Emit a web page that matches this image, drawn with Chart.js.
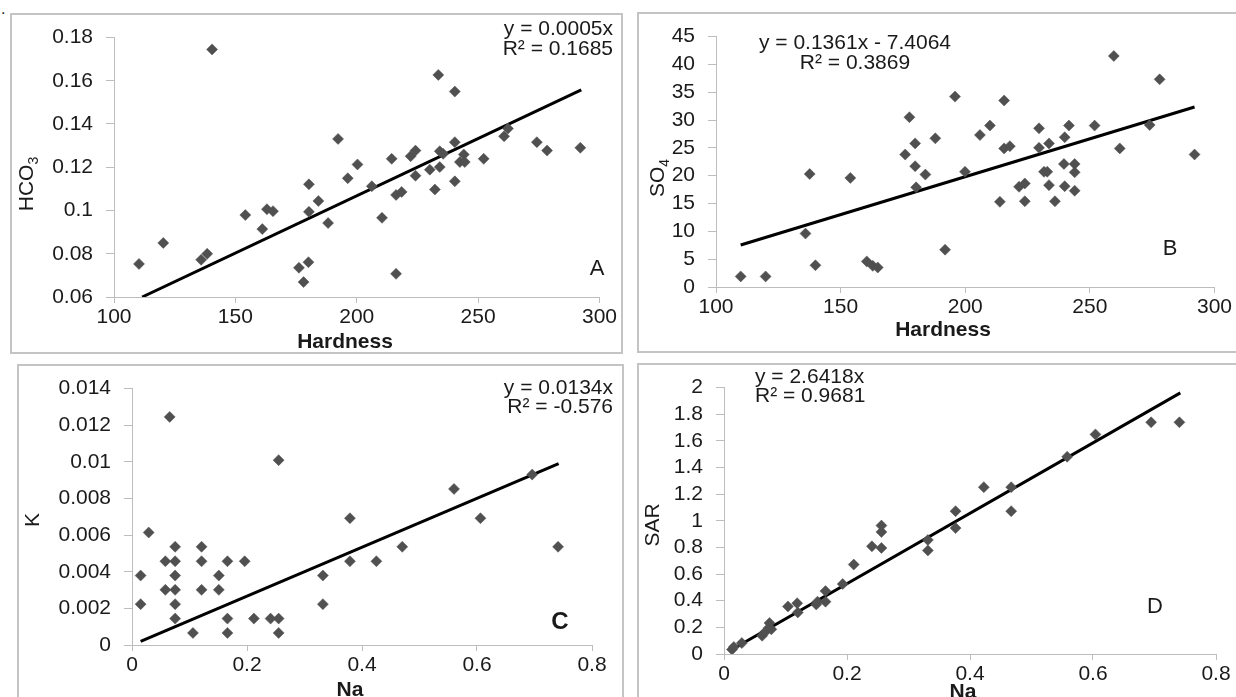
<!DOCTYPE html>
<html>
<head>
<meta charset="utf-8">
<script src="https://cdn.jsdelivr.net/npm/chart.js@4/dist/chart.umd.min.js"></script>
<style>
  html, body { margin: 0; padding: 0; background: #fff; }
  body { width: 1236px; height: 697px; position: relative; overflow: hidden; font-family: "Liberation Sans", Arial, sans-serif; }
  .box { position: absolute; border: 2px solid #c4c4c4; box-sizing: border-box; }
  canvas { position: absolute; }
  #dot { position: absolute; left: 1px; top: 0px; font-size: 16px; color: #222; }
</style>
</head>
<body>
<div id="dot">.</div>
<div class="box" style="left:10px;top:13px;width:613px;height:341px"></div>
<div class="box" style="left:637px;top:12px;width:620px;height:341px"></div>
<div class="box" style="left:17px;top:364px;width:607px;height:360px"></div>
<div class="box" style="left:637px;top:363px;width:620px;height:360px"></div>

<canvas id="chartA" width="610" height="339" style="left:11px;top:14px;width:610px;height:339px"></canvas>
<canvas id="chartB" width="598" height="339" style="left:638px;top:13px;width:598px;height:339px"></canvas>
<canvas id="chartC" width="604" height="332" style="left:18px;top:365px;width:604px;height:332px"></canvas>
<canvas id="chartD" width="598" height="333" style="left:638px;top:364px;width:598px;height:333px"></canvas>

<script>
const FONT = '"Liberation Sans", Arial, sans-serif';
const INK = '#1a1a1a';
const AXIS = '#bdbdbd';
const MARK = '#505050';

// A: HCO3 vs Hardness
const aHardness = [110.3, 120.3, 135.9, 138.4, 140.4, 154.1, 161.1, 163.0, 165.5, 176.2, 178.1, 180.1, 180.3, 180.3, 184.2, 188.2, 192.3, 196.3, 200.3, 206.2, 210.4, 214.4, 216.2, 216.2, 218.5, 222.2, 224.2, 224.2, 230.1, 232.2, 233.6, 234.2, 234.2, 235.6, 240.4, 240.4, 240.4, 242.5, 244.1, 244.5, 252.3, 260.7, 262.3, 274.2, 278.4, 292.1];
const aHCO3 = [0.0753, 0.0850, 0.0772, 0.0800, 0.1745, 0.0979, 0.0914, 0.1006, 0.0997, 0.0735, 0.0669, 0.0761, 0.1121, 0.0994, 0.1044, 0.0942, 0.1331, 0.1149, 0.1213, 0.1112, 0.0966, 0.1239, 0.0707, 0.1072, 0.1086, 0.1251, 0.1277, 0.1161, 0.1189, 0.1097, 0.1627, 0.1274, 0.1201, 0.1262, 0.1316, 0.1550, 0.1135, 0.1224, 0.1259, 0.1224, 0.1239, 0.1343, 0.1379, 0.1316, 0.1277, 0.1290];
const aTrendX = [111.6, 292.5];
const aTrendY = [0.0600, 0.1558];
const aXTicks = [100, 150, 200, 250, 300];
const aYTicks = [0.06, 0.08, 0.1, 0.12, 0.14, 0.16, 0.18];

// B: SO4 vs Hardness
const bHardness = [109.9, 119.9, 135.9, 137.6, 139.9, 153.9, 160.5, 162.9, 164.9, 175.9, 177.6, 179.9, 179.9, 180.3, 184.0, 188.0, 191.9, 195.9, 199.9, 205.9, 209.9, 213.9, 215.6, 215.6, 217.9, 221.6, 223.9, 223.9, 229.6, 229.6, 231.6, 232.9, 233.6, 233.6, 236.0, 239.6, 239.9, 239.9, 241.6, 243.9, 243.9, 243.9, 251.9, 259.6, 262.0, 274.0, 278.0, 292.0];
const bSO4 = [1.9, 1.9, 9.6, 20.3, 3.9, 19.6, 4.6, 3.8, 3.5, 23.8, 30.5, 25.8, 21.7, 17.9, 20.2, 26.7, 6.7, 34.2, 20.7, 27.3, 29.0, 15.3, 33.5, 24.9, 25.3, 18.0, 18.6, 15.4, 28.5, 25.0, 20.7, 20.7, 25.8, 18.3, 15.4, 22.1, 26.9, 18.1, 29.0, 22.1, 20.6, 17.3, 29.0, 41.5, 24.9, 29.1, 37.3, 23.8];
const bTrendX = [109.9, 292.0];
const bTrendY = [7.55, 32.33];
const bXTicks = [100, 150, 200, 250, 300];
const bYTicks = [0, 5, 10, 15, 20, 25, 30, 35, 40, 45];

// C: K vs Na
const cNa = [0.015, 0.015, 0.029, 0.058, 0.058, 0.0655, 0.075, 0.075, 0.075, 0.075, 0.075, 0.075, 0.106, 0.121, 0.121, 0.121, 0.151, 0.151, 0.166, 0.166, 0.166, 0.196, 0.212, 0.241, 0.255, 0.255, 0.255, 0.332, 0.332, 0.379, 0.379, 0.425, 0.470, 0.560, 0.606, 0.696, 0.741];
const cK = [0.00379, 0.00223, 0.00614, 0.00457, 0.00301, 0.01245, 0.00536, 0.00457, 0.00379, 0.00301, 0.00223, 0.00144, 0.00066, 0.00536, 0.00457, 0.00301, 0.00379, 0.00301, 0.00457, 0.00144, 0.00066, 0.00457, 0.00144, 0.00144, 0.00144, 0.00066, 0.01009, 0.00379, 0.00223, 0.00692, 0.00457, 0.00457, 0.00536, 0.00852, 0.00692, 0.0093, 0.00536];
const cTrendX = [0.015, 0.742];
const cTrendY = [0.0002, 0.0099];
const cXTicks = [0, 0.2, 0.4, 0.6, 0.8];
const cYTicks = [0, 0.002, 0.004, 0.006, 0.008, 0.01, 0.012, 0.014];

// D: SAR vs Na
const dNa = [0.013, 0.016, 0.029, 0.062, 0.066, 0.073, 0.074, 0.077, 0.104, 0.119, 0.120, 0.150, 0.152, 0.165, 0.165, 0.193, 0.211, 0.2405, 0.256, 0.256, 0.256, 0.3315, 0.3315, 0.3765, 0.3765, 0.4225, 0.467, 0.467, 0.558, 0.604, 0.6945, 0.7405];
const dSAR = [0.034, 0.053, 0.082, 0.137, 0.161, 0.197, 0.233, 0.185, 0.357, 0.381, 0.312, 0.372, 0.393, 0.472, 0.393, 0.525, 0.671, 0.808, 0.964, 0.916, 0.796, 0.856, 0.777, 1.072, 0.945, 1.252, 1.252, 1.072, 1.48, 1.648, 1.739, 1.739];
const dTrendX = [0.013, 0.742];
const dTrendY = [0.034, 1.96];
const dXTicks = [0, 0.2, 0.4, 0.6, 0.8];
const dYTicks = [0, 0.2, 0.4, 0.6, 0.8, 1, 1.2, 1.4, 1.6, 1.8, 2];

function pts(xs, ys) {
  return xs.map((x, i) => ({ x, y: ys[i] }));
}

// text drawn straight on the canvas (equations, panel letters, axis titles)
const notesPlugin = {
  id: 'notes',
  afterDraw(chart, args, opts) {
    const ctx = chart.ctx;
    (opts.items || []).forEach(n => {
      const size = n.size || 21;
      const mainFont = (n.bold ? 'bold ' : '') + size + 'px ' + FONT;
      const subFont = (n.bold ? 'bold ' : '') + Math.round(size * 0.65) + 'px ' + FONT;
      ctx.save();
      ctx.fillStyle = INK;
      ctx.textBaseline = 'middle';
      ctx.textAlign = 'left';
      ctx.translate(n.x, n.y);
      if (n.rotate) ctx.rotate(-Math.PI / 2);
      ctx.font = mainFont;
      const w = ctx.measureText(n.text).width;
      let sw = 0;
      if (n.sub) {
        ctx.font = subFont;
        sw = ctx.measureText(n.sub).width;
        ctx.font = mainFont;
      }
      const x0 = n.align === 'right' ? -(w + sw) : n.align === 'left' ? 0 : -(w + sw) / 2;
      ctx.fillText(n.text, x0, 0);
      if (n.sub) {
        ctx.font = subFont;
        ctx.fillText(n.sub, x0 + w, size * 0.32);
      }
      ctx.restore();
    });
  }
};

function axis(ticks, tickLen, pad, fit) {
  return {
    type: 'linear',
    min: ticks[0],
    max: ticks[ticks.length - 1],
    afterBuildTicks: s => { s.ticks = ticks.map(v => ({ value: v })); },
    afterFit: fit,
    grid: { drawOnChartArea: false, drawTicks: true, tickLength: tickLen, color: AXIS },
    border: { color: AXIS, width: 1 },
    ticks: {
      color: INK, padding: pad, maxRotation: 0, autoSkip: false,
      font: { family: FONT, size: 21, lineHeight: 1 },
      callback: v => String(v)
    }
  };
}

function panel(id, xs, ys, tx, ty, xTicks, yTicks, area, notes) {
  const cv = document.getElementById(id);
  new Chart(cv, {
    type: 'scatter',
    data: {
      datasets: [
        {
          data: pts(xs, ys),
          pointStyle: 'rectRot',
          pointRadius: 5.5,
          backgroundColor: MARK,
          borderColor: MARK,
          borderWidth: 0.5
        },
        {
          type: 'line',
          data: pts(tx, ty),
          showLine: true,
          pointRadius: 0,
          borderColor: '#000',
          borderWidth: 3
        }
      ]
    },
    plugins: [notesPlugin],
    options: {
      responsive: false,
      animation: false,
      layout: { padding: { left: 0, right: cv.width - area.right, top: area.top, bottom: 0 } },
      scales: {
        x: axis(xTicks, 6, 4, s => { s.height = cv.height - area.bottom; }),
        y: axis(yTicks, 8, 13, s => { s.width = area.left; })
      },
      plugins: {
        legend: { display: false },
        tooltip: { enabled: false },
        notes: { items: notes }
      }
    }
  });
}

panel('chartA', aHardness, aHCO3, aTrendX, aTrendY, aXTicks, aYTicks,
  { left: 103, right: 590, top: 21, bottom: 283 },
  [
    { text: 'y = 0.0005x', x: 602, y: 15, align: 'right' },
    { text: 'R² = 0.1685', x: 602, y: 35, align: 'right' },
    { text: 'A', x: 586, y: 255, size: 22 },
    { text: 'Hardness', x: 334, y: 328, bold: true },
    { text: 'HCO', sub: '3', x: 16, y: 170, rotate: true }
  ]);

panel('chartB', bHardness, bSO4, bTrendX, bTrendY, bXTicks, bYTicks,
  { left: 78, right: 578, top: 12, bottom: 274 },
  [
    { text: 'y = 0.1361x - 7.4064', x: 217, y: 30 },
    { text: 'R² = 0.3869', x: 217, y: 50 },
    { text: 'B', x: 532, y: 236, size: 22 },
    { text: 'Hardness', x: 305, y: 317, bold: true },
    { text: 'SO', sub: '4', x: 20, y: 165, rotate: true }
  ]);

panel('chartC', cNa, cK, cTrendX, cTrendY, cXTicks, cYTicks,
  { left: 114, right: 574, top: 10, bottom: 280 },
  [
    { text: 'y = 0.0134x', x: 595, y: 23, align: 'right' },
    { text: 'R² = -0.576', x: 595, y: 42, align: 'right' },
    { text: 'C', x: 542, y: 257, size: 24, bold: true },
    { text: 'Na', x: 332, y: 325, bold: true },
    { text: 'K', x: 15, y: 155, rotate: true }
  ]);

panel('chartD', dNa, dSAR, dTrendX, dTrendY, dXTicks, dYTicks,
  { left: 86, right: 578, top: 12, bottom: 290 },
  [
    { text: 'y = 2.6418x', x: 117, y: 13, align: 'left' },
    { text: 'R² = 0.9681', x: 117, y: 32, align: 'left' },
    { text: 'D', x: 517, y: 243, size: 22 },
    { text: 'Na', x: 325, y: 328, bold: true },
    { text: 'SAR', x: 15, y: 161, rotate: true }
  ]);
</script>
</body>
</html>
